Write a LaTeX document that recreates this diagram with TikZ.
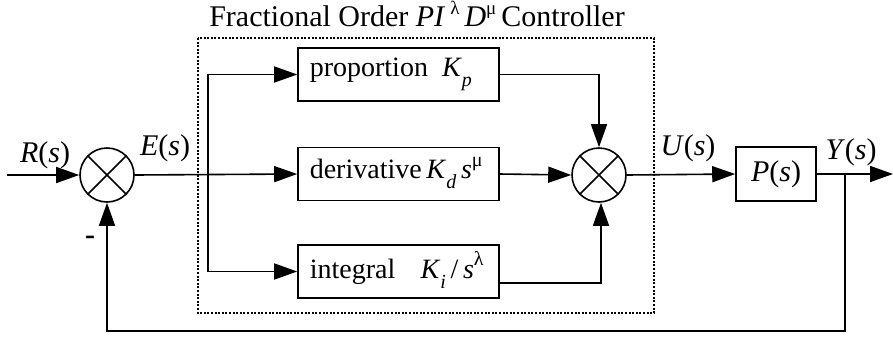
\documentclass[tikz,border=0pt]{standalone}
\usepackage{fontspec}
\setmainfont{Liberation Serif}
\usetikzlibrary{arrows.meta,shapes.geometric,calc}
\newcommand{\ita}[1]{\textit{#1}}
\newcommand{\lowsub}[1]{\raisebox{-0.35em}{\fontsize{20}{20}\selectfont\textit{#1}}}
\newcommand{\highsup}[1]{\raisebox{0.45em}{\fontsize{20}{20}\selectfont #1}}
\newcommand{\titlesup}[1]{\raisebox{0.38em}{\fontsize{19}{19}\selectfont #1}}
\begin{document}
\begin{tikzpicture}[x=1pt,y=-1pt,
  line width=1.6pt,
  arr/.style={-{Triangle[length=23pt,width=16pt]}},
  blk/.style={draw,rectangle,minimum width=201pt,minimum height=53pt,inner sep=0pt},
  sumc/.style={draw,circle,minimum size=54pt,inner sep=0pt},
  lbl/.style={font=\fontsize{30}{36}\selectfont,inner sep=0pt},
  btxt/.style={font=\fontsize{28}{34}\selectfont,inner sep=0pt,anchor=west}
  ]
\useasboundingbox (0,0) rectangle (893,338);
% summing junctions
\node[sumc] (s1) at (107,175) {};
\draw (s1.north east) -- (s1.south west) (s1.north west) -- (s1.south east);
\node[sumc] (s2) at (599,175) {};
\draw (s2.north east) -- (s2.south west) (s2.north west) -- (s2.south east);
% blocks
\node[blk] (bp) at (398.5,74.5) {};
\node[blk] (bd) at (398.5,174) {};
\node[blk] (bi) at (398.5,271.5) {};
\node[draw,rectangle,minimum width=80pt,minimum height=54pt,inner sep=0pt] (bP) at (776,174) {};
% block texts
\node[btxt] (tp) at (309,74) {proportion\hspace{0.5em}\ita{K}\lowsub{p}};
\node[btxt] (td) at (309,173) {derivative\,\ita{K}\lowsub{d}\,\ita{s}\highsup{μ}};
\node[btxt] (ti) at (309,270) {integral\hspace{0.9em}\ita{K}\lowsub{i}\,/\,\ita{s}\highsup{λ}};
\node[lbl] (tP) at (776,174) {\ita{P}(\ita{s})};
% controller box
\draw[dash pattern=on 2pt off 1.6pt,line width=1.5pt] (198,38) rectangle (654,313);
\node[lbl,anchor=base] (title) at (417,26) {Fractional Order \ita{PI}\,\titlesup{λ}\,\ita{D}\titlesup{μ}\,Controller};
% labels
\node[lbl] (lR) at (45,155) {\ita{R}(\ita{s})};
\node[lbl] (lE) at (165,148) {\ita{E}(\ita{s})};
\node[lbl] (lU) at (688,148) {\ita{U}(\ita{s})};
\node[lbl] (lY) at (851,152) {\ita{Y}(\ita{s})};
\node[lbl,font=\fontsize{30}{36}\bfseries] (lm) at (90,240) {-};
% coordinates
\coordinate (in) at (7,175);
\coordinate (br) at (208,175);
\coordinate (out) at (893,174);
\coordinate (fb) at (845,174);
\coordinate (bot) at (845,331);
% connectors
\draw[arr] (in) -- (s1.west);
\draw[arr] (s1.east) -- (bd.west);
\draw[arr] (br) |- (bp.west);
\draw[arr] (br) |- (bi.west);
\draw[arr] (bp.east) -| (s2.north);
\draw[arr] (bd.east) -- (s2.west);
\draw[arr] ($(bi.east)+(0,11.5)$) -| ($(s2.south)+(2,0)$);
\draw[arr] (s2.east) -- (bP.west);
\draw[arr] (bP.east) -- (out);
\draw[arr] (fb) -- (bot) -| (s1.south);
\end{tikzpicture}
\end{document}
